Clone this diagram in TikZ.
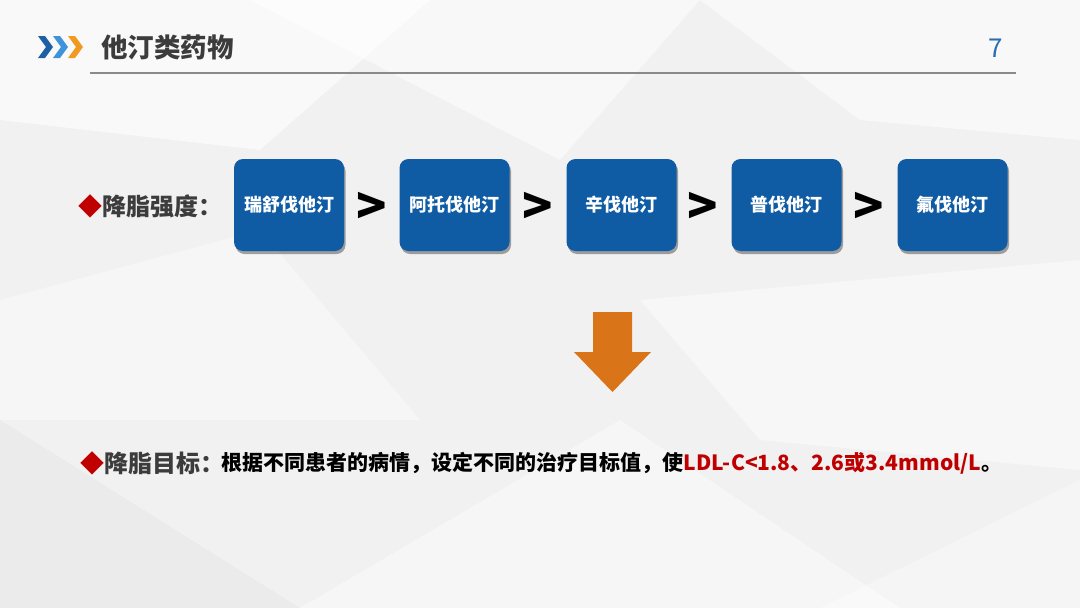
\documentclass[tikz,border=0pt]{standalone}
\usepackage{fontspec}
\setmainfont{Noto Sans CJK SC}
\usetikzlibrary{shadows}
\definecolor{bg}{HTML}{F1F1F1}
\definecolor{boxblue}{HTML}{0F5CA5}
\definecolor{titlegray}{HTML}{3C3C3C}
\definecolor{pagenum}{HTML}{2A6DB5}
\definecolor{rulegray}{HTML}{8A8A8A}
\definecolor{chevA}{HTML}{1E5FA6}
\definecolor{chevB}{HTML}{3F93DA}
\definecolor{chevC}{HTML}{F29A1F}
\definecolor{arroworange}{HTML}{DA7419}
\definecolor{dred}{HTML}{C00000}
\tikzset{
  drugbox/.style={fill=boxblue, rounded corners=9pt, minimum width=110pt, minimum height=92pt,
    inner sep=0pt, text=white, font=\bfseries\fontsize{18}{21}\selectfont,
    drop shadow={shadow xshift=1.5pt, shadow yshift=-3pt, opacity=0.35, fill=black}},
  gtsign/.style={font=\bfseries\fontsize{50}{50}\selectfont, text=black, inner sep=0pt},
  label/.style={anchor=west, inner sep=0pt, text=titlegray, font=\bfseries\fontsize{24}{28}\selectfont},
  body/.style={anchor=west, inner sep=0pt, text=black, font=\bfseries\fontsize{21}{24}\selectfont},
}
\begin{document}
\begin{tikzpicture}[x=1pt,y=-1pt]
\useasboundingbox (0,0) rectangle (1080,608);
% background
\fill[bg] (0,0) rectangle (1080,608);
\fill[white,opacity=0.6] (0,0) -- (430,0) -- (260,150) -- (0,120) -- cycle;
\fill[white,opacity=0.5] (250,0) -- (700,0) -- (560,160) -- cycle;
\fill[white,opacity=0.55] (700,0) -- (1080,0) -- (1080,140) -- (860,120) -- cycle;
\fill[white,opacity=0.4] (0,300) -- (260,230) -- (420,420) -- (0,420) -- cycle;
\fill[white,opacity=0.45] (640,300) -- (1080,260) -- (1080,470) -- (760,440) -- cycle;
\fill[white,opacity=0.4] (300,608) -- (620,420) -- (900,608) -- cycle;
\fill[white,opacity=0.35] (820,608) -- (1080,480) -- (1080,608) -- cycle;
\fill[gray,opacity=0.05] (0,420) -- (300,608) -- (0,608) -- cycle;
% header chevrons
\fill[chevA] (38,36) -- (45,36) -- (53,47) -- (45,58) -- (38,58) -- (46,47) -- cycle;
\fill[chevB] (53,36) -- (60,36) -- (68,47) -- (60,58) -- (53,58) -- (61,47) -- cycle;
\fill[chevC] (68,36) -- (75,36) -- (83,47) -- (75,58) -- (68,58) -- (76,47) -- cycle;
\node[anchor=west, inner sep=0pt, text=titlegray, font=\bfseries\fontsize{26.5}{30}\selectfont] (title) at (101,47) {他汀类药物};
\node[inner sep=0pt, text=pagenum, font=\fontsize{26}{30}\selectfont] (pnum) at (996,48) {7};
\draw[rulegray, line width=1.2pt] (90,73) -- (1016,73);
% strength row
\node[label] (lbl1) at (78,206) {\textcolor{dred}{◆}降脂强度：};
\node[drugbox] (d1) at (289,205) {瑞舒伐他汀};
\node[drugbox] (d2) at (454.5,205) {阿托伐他汀};
\node[drugbox] (d3) at (621.5,205) {辛伐他汀};
\node[drugbox] (d4) at (786.5,205) {普伐他汀};
\node[drugbox] (d5) at (952.5,205) {氟伐他汀};
\node[gtsign] (g1) at (372,208) {>};
\node[gtsign] (g2) at (538,208) {>};
\node[gtsign] (g3) at (703,208) {>};
\node[gtsign] (g4) at (869,208) {>};
% down arrow
\fill[arroworange] (593,312) -- (632,312) -- (632,352) -- (651,352) -- (612.5,392) -- (574,352) -- (593,352) -- cycle;
% target row
\node[label] (lbl2) at (80,463) {\textcolor{dred}{◆}降脂目标：};
\node[body] (txt) at ([xshift=-3pt]lbl2.east) {根据不同患者的病情，设定不同的治疗目标值，使\textcolor{dred}{LDL-C<1.8、2.6或3.4mmol/L}。};
\end{tikzpicture}
\end{document}
